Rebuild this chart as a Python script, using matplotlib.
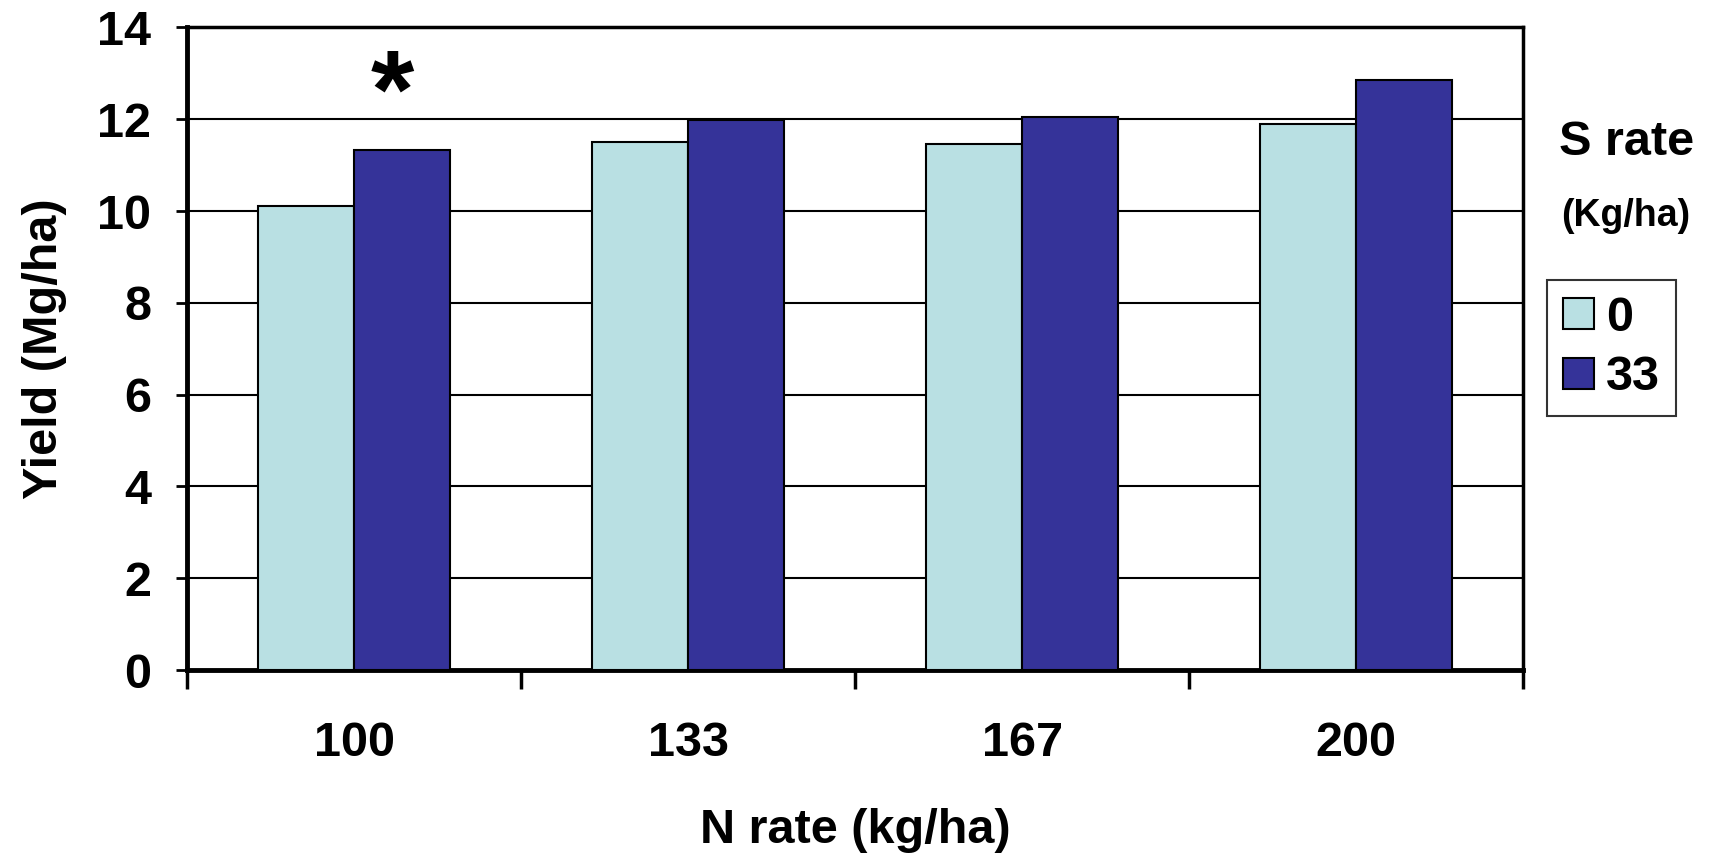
import matplotlib
matplotlib.use("Agg")
import matplotlib.pyplot as plt
import numpy as np
from matplotlib.ticker import FixedLocator, NullFormatter, FixedFormatter

plt.rcParams['font.family'] = ['Liberation Sans', 'DejaVu Sans']
plt.rcParams['font.weight'] = 'bold'

categories = ["100", "133", "167", "200"]
s_rates = ["0", "33"]
yield_s0 = [10.10, 11.51, 11.47, 11.90]
yield_s33 = [11.32, 11.99, 12.04, 12.85]
colors = ["#B9E0E3", "#353399"]

fig = plt.figure(figsize=(17.19, 8.58), dpi=100)
ax = fig.add_axes([0.109, 0.219, 0.777, 0.749])

x = np.arange(len(categories))
w = 0.287
b0 = ax.bar(x - w/2, yield_s0, width=w, color=colors[0], edgecolor="black", linewidth=1.5, label=s_rates[0], zorder=3)
b1 = ax.bar(x + w/2, yield_s33, width=w, color=colors[1], edgecolor="black", linewidth=1.5, label=s_rates[1], zorder=3)

ax.set_xlim(-0.5, len(categories) - 0.5)
ax.set_ylim(0, 14)
ax.set_yticks(np.arange(0, 15, 2))
ax.yaxis.grid(True, color="black", linewidth=1.5)
ax.set_axisbelow(True)

ax.xaxis.set_major_locator(FixedLocator(np.arange(-0.5, len(categories), 1.0)))
ax.xaxis.set_major_formatter(NullFormatter())
ax.xaxis.set_minor_locator(FixedLocator(x))
ax.xaxis.set_minor_formatter(FixedFormatter(categories))
ax.tick_params(axis='x', which='major', length=14, width=2.5, direction='out')
ax.tick_params(axis='x', which='minor', length=0, pad=37, labelsize=35)
ax.tick_params(axis='y', which='major', length=8, width=2, direction='out', labelsize=35, pad=18)
for lab in ax.get_xticklabels(minor=True) + ax.get_yticklabels():
    lab.set_fontweight('bold')

for side in ['left', 'bottom']:
    ax.spines[side].set_linewidth(3.5)
for side in ['top', 'right']:
    ax.spines[side].set_linewidth(2.5)

ax.set_xlabel("N rate (kg/ha)", fontsize=35, fontweight='bold', labelpad=30)
ax.set_ylabel("Yield (Mg/ha)", fontsize=35, fontweight='bold', labelpad=22)

ax.text(0 + w/2 - 0.03, 12.45, "*", fontsize=80, fontweight='bold', ha='center', va='center')

fig.text(0.946, 0.834, "S rate", fontsize=35, fontweight='bold', ha='center', va='center')
fig.text(0.946, 0.748, "(Kg/ha)", fontsize=27, fontweight='bold', ha='center', va='center')

leg = fig.legend(handles=[b0, b1], labels=s_rates, loc='upper left',
                 bbox_to_anchor=(0.900, 0.674), borderaxespad=0, frameon=True, fancybox=False,
                 edgecolor='black', fontsize=35, handlelength=0.63, handleheight=0.6,
                 handletextpad=0.25, labelspacing=0.3, borderpad=0.33)
leg.get_frame().set_linewidth(1.5)
for t in leg.get_texts():
    t.set_fontweight('bold')

fig.savefig("out.png", dpi=100)
